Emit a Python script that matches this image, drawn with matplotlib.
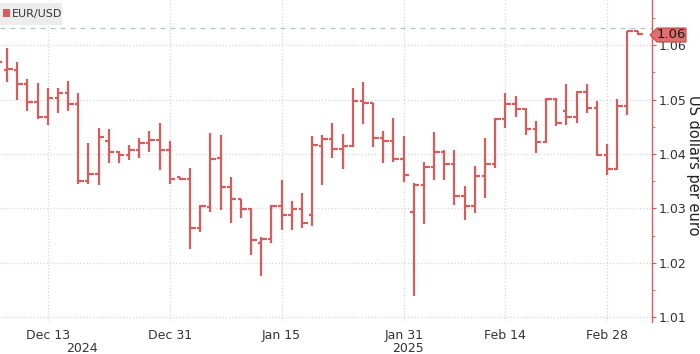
import matplotlib
matplotlib.use("Agg")
import matplotlib.pyplot as plt
import matplotlib.transforms as mtransforms
from matplotlib.patches import Polygon, Rectangle
import numpy as np
import pandas as pd

# ---------------- data ----------------
dates = pd.bdate_range("2024-12-06", "2025-03-05")

opens = [1.0572, 1.0555, 1.0555, 1.0528, 1.0496, 1.0467, 1.0502, 1.0512, 1.0492, 1.0351,
         1.0363, 1.0423, 1.0404, 1.0398, 1.0407, 1.0421, 1.0426, 1.0407, 1.0357, 1.0355,
         1.0264, 1.0303, 1.0392, 1.0339, 1.0317, 1.0299, 1.0236, 1.0244, 1.0305, 1.0288,
         1.0299, 1.0288, 1.0415, 1.0428, 1.0409, 1.0415, 1.0497, 1.0493, 1.0429, 1.0423,
         1.0390, 1.0294, 1.0343, 1.0377, 1.0404, 1.0382, 1.0323, 1.0305, 1.0360, 1.0382,
         1.0464, 1.0492, 1.0483, 1.0445, 1.0422, 1.0501, 1.0479, 1.0467, 1.0514, 1.0484,
         1.0398, 1.0373, 1.0488, 1.0625]
highs = [1.0582, 1.0594, 1.0568, 1.0538, 1.0531, 1.0522, 1.0522, 1.0534, 1.0512, 1.0421,
         1.0447, 1.0445, 1.0405, 1.0417, 1.0429, 1.0443, 1.0457, 1.0423, 1.0358, 1.0374,
         1.0306, 1.0438, 1.0435, 1.0357, 1.0318, 1.0300, 1.0248, 1.0306, 1.0352, 1.0314,
         1.0328, 1.0433, 1.0435, 1.0456, 1.0437, 1.0521, 1.0533, 1.0494, 1.0443, 1.0466,
         1.0433, 1.0346, 1.0386, 1.0441, 1.0407, 1.0407, 1.0341, 1.0378, 1.0429, 1.0466,
         1.0512, 1.0506, 1.0485, 1.0461, 1.0502, 1.0502, 1.0528, 1.0516, 1.0528, 1.0498,
         1.0419, 1.0501, 1.0626, 1.0626]
lows = [1.0561, 1.0533, 1.0499, 1.0479, 1.0464, 1.0453, 1.0476, 1.0479, 1.0345, 1.0345,
        1.0343, 1.0384, 1.0384, 1.0389, 1.0392, 1.0404, 1.0371, 1.0345, 1.0352, 1.0225,
        1.0256, 1.0294, 1.0297, 1.0273, 1.0282, 1.0215, 1.0176, 1.0237, 1.0261, 1.0261,
        1.0264, 1.0267, 1.0343, 1.0392, 1.0372, 1.0412, 1.0455, 1.0413, 1.0383, 1.0386,
        1.0349, 1.0139, 1.0272, 1.0352, 1.0352, 1.0306, 1.0279, 1.0292, 1.0319, 1.0374,
        1.0447, 1.0468, 1.0435, 1.0401, 1.0421, 1.0451, 1.0453, 1.0456, 1.0476, 1.0397,
        1.0361, 1.0371, 1.0472, 1.0618]
closes = [1.0568, 1.0556, 1.0528, 1.0496, 1.0467, 1.0502, 1.0512, 1.0492, 1.0351, 1.0363,
          1.0431, 1.0404, 1.0398, 1.0407, 1.0421, 1.0426, 1.0407, 1.0354, 1.0355, 1.0264,
          1.0305, 1.0390, 1.0339, 1.0317, 1.0299, 1.0243, 1.0244, 1.0305, 1.0288, 1.0299,
          1.0273, 1.0417, 1.0428, 1.0409, 1.0415, 1.0497, 1.0493, 1.0429, 1.0423, 1.0390,
          1.0361, 1.0343, 1.0377, 1.0404, 1.0382, 1.0323, 1.0305, 1.0360, 1.0382, 1.0464,
          1.0492, 1.0483, 1.0445, 1.0422, 1.0501, 1.0457, 1.0467, 1.0514, 1.0484, 1.0398,
          1.0373, 1.0488, 1.0625, 1.0620]

tick_dates = ["2024-12-13", "2024-12-31", "2025-01-15", "2025-01-31", "2025-02-14", "2025-02-28"]
tick_labels = ["Dec 13", "Dec 31", "Jan 15", "Jan 31", "Feb 14", "Feb 28"]
year_labels = ["2024", "2025"]
y_ticks = [1.01, 1.02, 1.03, 1.04, 1.05, 1.06]
series_name = "EUR/USD"
last_label = "1.06"
ref_level = 1.0632
y_title = "US dollars per euro"

# ---------------- style ----------------
RED = "#d95c5c"
TXT = "#333333"
W, H = 700, 354

def fx(px):
    return px / W

def fy(py):
    return 1 - py / H

fig = plt.figure(figsize=(W / 100, H / 100), dpi=100)
ax = fig.add_axes([0, fy(322), fx(652), 1 - fy(322)])

x = np.arange(len(dates))
ax.vlines(x, lows, highs, color=RED, lw=1.6, zorder=3)
ax.hlines(opens, x - 0.33, x, color=RED, lw=1.6, zorder=3)
ax.hlines(closes, x, x + 0.55, color=RED, lw=1.6, zorder=3)

ax.axhline(ref_level, color="#a9c6d6", lw=0.9, ls=(0, (4, 4)), zorder=2)

ax.set_xlim(0.31, 64.42)
ax.set_ylim(1.00917, 1.06826)

tick_pos = [dates.get_loc(pd.Timestamp(d)) for d in tick_dates]
ax.set_xticks(tick_pos)
ax.set_xticklabels(tick_labels, fontsize=9, color=TXT)
ax.tick_params(axis="x", length=0, pad=5)

ax.yaxis.tick_right()
ax.set_yticks(y_ticks)
ax.set_yticklabels([f"{v:.2f}" for v in y_ticks], fontsize=9, color=TXT)
ax.set_yticks(np.arange(1.015, 1.066, 0.01), minor=True)
ax.tick_params(axis="y", which="major", length=3, color=RED, pad=2)
ax.tick_params(axis="y", which="minor", length=2, color=RED)

for s in ["top", "left", "bottom"]:
    ax.spines[s].set_visible(False)
ax.spines["right"].set_color(RED)
ax.spines["right"].set_linewidth(1.0)

ax.grid(True, which="major", color="#d6d6d6", ls=":", lw=0.9)
ax.set_axisbelow(True)

# year labels
trans = mtransforms.blended_transform_factory(ax.transData, fig.transFigure)
ax.text(8.4, fy(348), year_labels[0], transform=trans, fontsize=9, color=TXT,
        ha="center", va="center")
ax.text(40.4, fy(348), year_labels[1], transform=trans, fontsize=9, color=TXT,
        ha="center", va="center")

# y title
fig.text(fx(693), fy(165), y_title, rotation=270, fontsize=10.5, color="#222222",
         ha="center", va="center")

# legend box
fig.patches.append(Rectangle((fx(0), fy(25)), fx(62), fy(3) - fy(25),
                             transform=fig.transFigure, facecolor="#ececec",
                             edgecolor="none", zorder=5))
fig.patches.append(Rectangle((fx(3), fy(17)), fx(7), fy(9) - fy(17),
                             transform=fig.transFigure, facecolor=RED,
                             edgecolor="none", zorder=6))
fig.text(fx(12), fy(14), series_name, fontsize=8, color=TXT, ha="left",
         va="center", zorder=7)

# last price tag
tag = Polygon([(fx(650), fy(35)), (fx(657), fy(28)), (fx(686), fy(28)),
               (fx(686), fy(42)), (fx(657), fy(42))], closed=True,
              transform=fig.transFigure, facecolor="#e06e6e", edgecolor="#c24a4a",
              lw=0.8, zorder=8)
fig.patches.append(tag)
fig.text(fx(671), fy(35), last_label, fontsize=9.5, color="#1a1a1a",
         ha="center", va="center", zorder=9)

fig.savefig("out.png", dpi=100)
